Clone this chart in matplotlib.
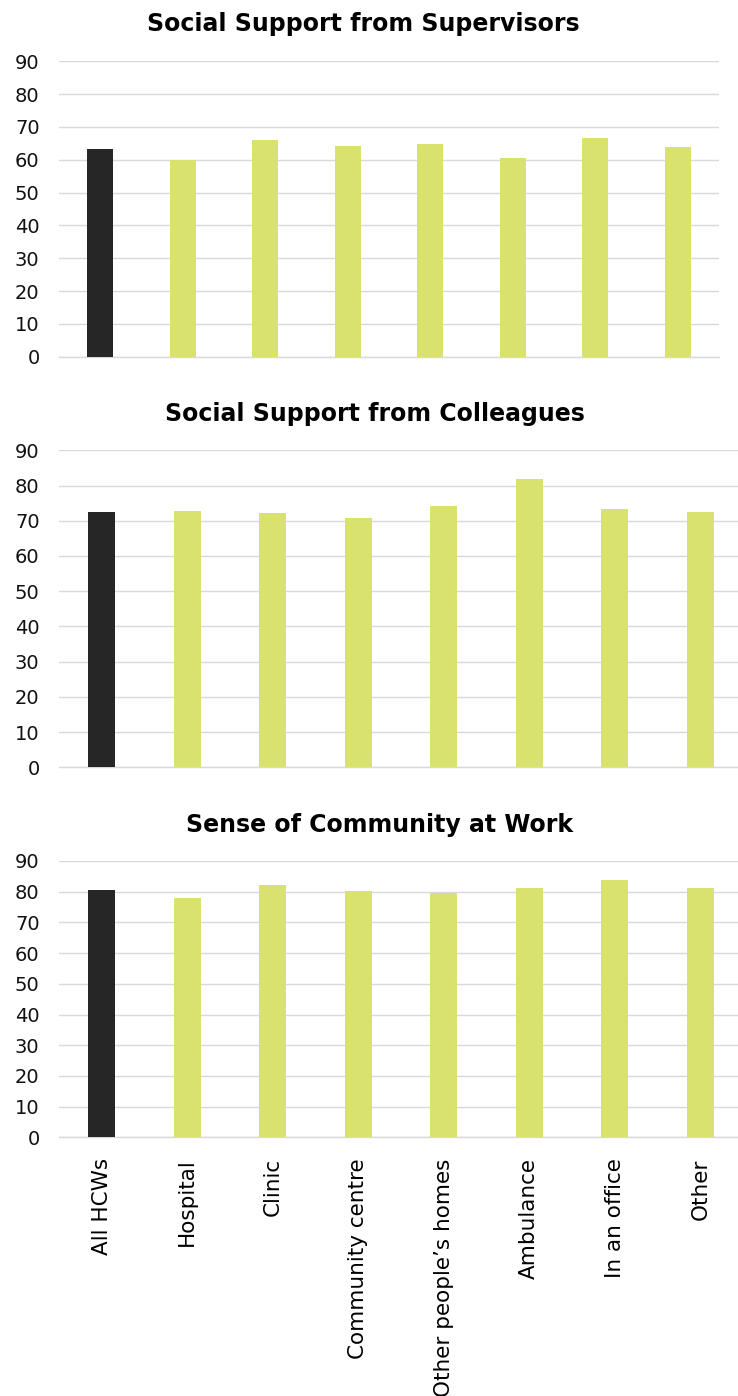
import matplotlib
matplotlib.use("Agg")
import matplotlib.pyplot as plt

# Data
categories = ["All HCWs", "Hospital", "Clinic", "Community centre",
              "Other people\u2019s homes", "Ambulance", "In an office", "Other"]
supervisors = [63.2, 59.8, 66.1, 64.3, 64.9, 60.6, 66.6, 63.9]
colleagues = [72.6, 72.8, 72.3, 70.9, 74.2, 81.8, 73.4, 72.6]
community = [80.5, 78.1, 82.2, 80.1, 79.7, 81.1, 83.7, 81.2]
titles = ["Social Support from Supervisors",
          "Social Support from Colleagues",
          "Sense of Community at Work"]

dark = "#262626"
green = "#d9e16f"
grid_col = "#d9d9d9"

W, H = 738, 1396
fig = plt.figure(figsize=(W / 100, H / 100), dpi=100)

# axes boxes in pixels: left, right, y of 90, y of 0 ; title centre (x, y)
boxes = [
    (59, 719, 61.3, 356.7, 363, 24),
    (59, 743, 450.3, 767.3, 375, 414),
    (59, 743, 861, 1137.3, 380, 825),
]
series = [supervisors, colleagues, community]

for i, (vals, title, box) in enumerate(zip(series, titles, boxes)):
    l, r, ytop, ybot, tx, ty = box
    ax = fig.add_axes([l / W, 1 - ybot / H, (r - l) / W, (ybot - ytop) / H])
    x = range(len(categories))
    colors = [dark] + [green] * (len(categories) - 1)
    ax.bar(x, vals, width=0.31, color=colors, zorder=3)
    ax.set_ylim(0, 90)
    ax.set_xlim(-0.5, len(categories) - 0.5)
    ax.set_yticks(range(0, 91, 10))
    ax.yaxis.grid(True, color=grid_col, linewidth=1, zorder=0)
    ax.set_axisbelow(True)
    for s in ["top", "right", "left"]:
        ax.spines[s].set_visible(False)
    ax.spines["bottom"].set_color(grid_col)
    ax.spines["bottom"].set_linewidth(1)
    ax.tick_params(axis="y", length=0, pad=14, labelsize=14, labelcolor="#111111")
    ax.tick_params(axis="x", length=0, pad=15)
    ax.set_xticks(list(x))
    if i == 2:
        ax.set_xticklabels(categories, rotation=90, fontsize=15.5, va="top")
    else:
        ax.set_xticklabels([])
    fig.text(tx / W, 1 - ty / H, title, ha="center", va="center",
             fontsize=17, fontweight="bold")

fig.savefig("out.png", dpi=100)
